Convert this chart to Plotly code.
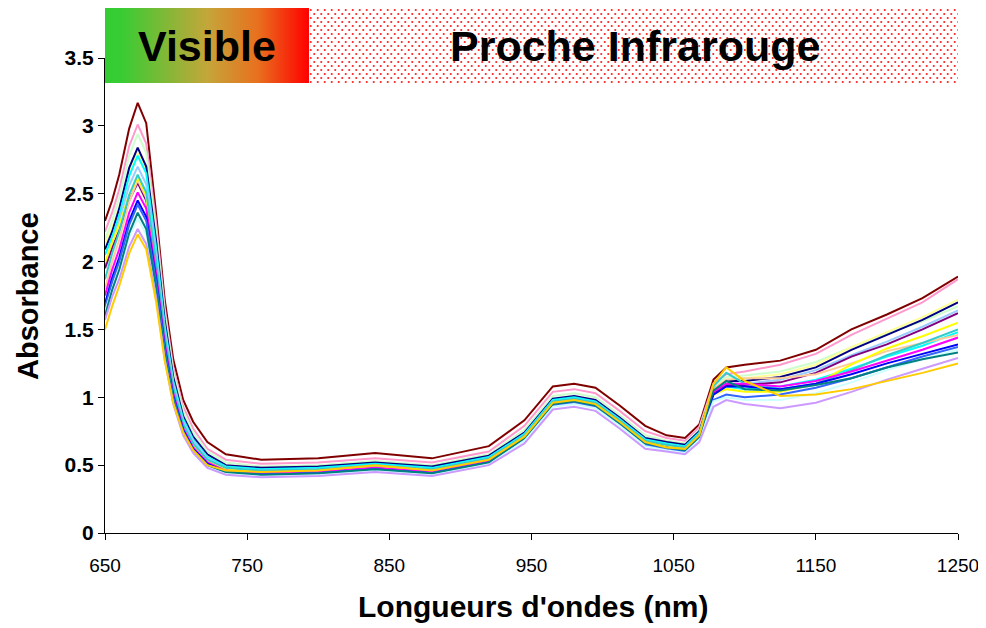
import base64
import plotly.graph_objects as go

# ---------------- data ----------------
wavelengths = [650, 655, 660, 667, 673, 679, 686, 692, 698, 705, 712, 722, 735, 760, 800, 840, 880, 920,
               945, 965, 980, 995, 1012, 1030, 1045,
               1058, 1068, 1078, 1087, 1100, 1125, 1150, 1175, 1200, 1225, 1250]

s_maroon = [2.30, 2.45, 2.64, 2.98, 3.17, 3.02, 2.35, 1.72, 1.28, 0.98, 0.82, 0.67, 0.58, 0.54, 0.55, 0.59, 0.55, 0.64,
            0.83, 1.08, 1.10, 1.07, 0.94, 0.79, 0.72,
            0.70, 0.80, 1.13, 1.22, 1.24, 1.27, 1.35, 1.50, 1.61, 1.73, 1.89]
s_pink = [2.22, 2.36, 2.53, 2.85, 3.01, 2.87, 2.28, 1.66, 1.22, 0.93, 0.77, 0.62, 0.54, 0.51, 0.52, 0.55, 0.52, 0.60,
          0.79, 1.04, 1.06, 1.03, 0.90, 0.75, 0.70,
          0.68, 0.78, 1.10, 1.17, 1.19, 1.24, 1.32, 1.46, 1.58, 1.70, 1.87]
s_lightgreen = [2.16, 2.30, 2.47, 2.78, 2.94, 2.80, 2.22, 1.62, 1.19, 0.90, 0.74, 0.60, 0.52, 0.49, 0.50, 0.53, 0.50, 0.58,
                0.76, 1.01, 1.03, 1.00, 0.87, 0.72, 0.68,
                0.66, 0.76, 1.08, 1.15, 1.16, 1.19, 1.26, 1.37, 1.47, 1.56, 1.67]
s_navy = [2.09, 2.22, 2.39, 2.69, 2.84, 2.70, 2.15, 1.57, 1.15, 0.86, 0.71, 0.58, 0.50, 0.48, 0.49, 0.52, 0.49, 0.57,
          0.74, 0.99, 1.01, 0.98, 0.85, 0.70, 0.67,
          0.65, 0.75, 1.06, 1.12, 1.12, 1.15, 1.22, 1.35, 1.46, 1.57, 1.70]
s_lightyellow = [2.13, 2.25, 2.40, 2.67, 2.80, 2.67, 2.12, 1.55, 1.14, 0.85, 0.70, 0.57, 0.50, 0.47, 0.48, 0.51, 0.48, 0.56,
                 0.73, 0.98, 1.00, 0.97, 0.84, 0.69, 0.66,
                 0.64, 0.74, 1.07, 1.13, 1.14, 1.17, 1.24, 1.37, 1.48, 1.59, 1.72]
s_cyan = [2.05, 2.18, 2.34, 2.63, 2.78, 2.65, 2.10, 1.53, 1.12, 0.84, 0.69, 0.56, 0.49, 0.47, 0.48, 0.51, 0.48, 0.56,
          0.73, 0.98, 1.00, 0.97, 0.84, 0.69, 0.66,
          0.64, 0.74, 1.04, 1.08, 1.06, 1.08, 1.13, 1.21, 1.30, 1.38, 1.48]
s_paleblue = [1.97, 2.15, 2.30, 2.56, 2.70, 2.57, 2.05, 1.50, 1.10, 0.82, 0.68, 0.55, 0.48, 0.46, 0.47, 0.50, 0.47, 0.55,
              0.72, 0.97, 0.99, 0.96, 0.83, 0.68, 0.65,
              0.63, 0.73, 1.05, 1.10, 1.10, 1.13, 1.20, 1.31, 1.41, 1.52, 1.64]
s_aqua = [1.87, 2.06, 2.22, 2.49, 2.64, 2.51, 2.00, 1.46, 1.07, 0.80, 0.66, 0.54, 0.48, 0.46, 0.47, 0.50, 0.47, 0.55,
          0.72, 0.97, 0.99, 0.96, 0.83, 0.68, 0.65,
          0.63, 0.73, 1.08, 1.18, 1.10, 1.06, 1.10, 1.20, 1.31, 1.40, 1.50]
s_tan = [1.80, 2.00, 2.16, 2.44, 2.60, 2.47, 1.97, 1.44, 1.06, 0.79, 0.65, 0.53, 0.47, 0.45, 0.46, 0.49, 0.46, 0.54,
         0.71, 0.96, 0.98, 0.95, 0.82, 0.67, 0.64,
         0.62, 0.72, 1.06, 1.13, 1.14, 1.14, 1.17, 1.25, 1.34, 1.40, 1.46]
s_purple = [1.95, 2.10, 2.23, 2.45, 2.58, 2.45, 1.96, 1.44, 1.06, 0.79, 0.65, 0.53, 0.47, 0.45, 0.46, 0.49, 0.46, 0.54,
            0.71, 0.96, 0.98, 0.95, 0.82, 0.67, 0.64,
            0.62, 0.72, 1.03, 1.09, 1.09, 1.11, 1.18, 1.30, 1.39, 1.50, 1.62]
s_yellow = [1.99, 2.14, 2.27, 2.49, 2.62, 2.49, 1.98, 1.45, 1.06, 0.79, 0.65, 0.53, 0.47, 0.45, 0.46, 0.49, 0.46, 0.54,
            0.71, 0.96, 0.98, 0.95, 0.82, 0.67, 0.64,
            0.62, 0.72, 1.02, 1.06, 1.04, 1.04, 1.10, 1.24, 1.36, 1.45, 1.55]
s_magenta = [1.75, 1.94, 2.09, 2.36, 2.51, 2.39, 1.91, 1.40, 1.03, 0.77, 0.63, 0.52, 0.46, 0.44, 0.45, 0.48, 0.45, 0.53,
             0.70, 0.95, 0.97, 0.94, 0.81, 0.66, 0.63,
             0.61, 0.71, 1.04, 1.10, 1.10, 1.08, 1.12, 1.19, 1.27, 1.35, 1.44]
s_blue = [1.69, 1.88, 2.03, 2.30, 2.45, 2.33, 1.87, 1.37, 1.01, 0.76, 0.62, 0.51, 0.45, 0.43, 0.44, 0.47, 0.44, 0.52,
          0.69, 0.94, 0.96, 0.93, 0.80, 0.65, 0.62,
          0.60, 0.70, 1.02, 1.08, 1.08, 1.06, 1.10, 1.17, 1.25, 1.32, 1.39]
s_royal = [1.66, 1.85, 2.00, 2.27, 2.42, 2.30, 1.85, 1.36, 1.00, 0.75, 0.61, 0.50, 0.45, 0.43, 0.44, 0.47, 0.44, 0.52,
           0.69, 0.94, 0.96, 0.93, 0.80, 0.65, 0.62,
           0.60, 0.70, 0.98, 1.02, 1.00, 1.02, 1.07, 1.14, 1.22, 1.30, 1.37]
s_teal = [1.60, 1.79, 1.94, 2.21, 2.36, 2.24, 1.81, 1.33, 0.98, 0.74, 0.61, 0.50, 0.45, 0.43, 0.44, 0.47, 0.44, 0.52,
          0.70, 0.95, 0.97, 0.94, 0.81, 0.66, 0.63,
          0.61, 0.71, 1.05, 1.12, 1.06, 1.05, 1.09, 1.14, 1.22, 1.28, 1.33]
s_turquoise = [1.63, 1.80, 1.94, 2.18, 2.32, 2.20, 1.78, 1.31, 0.97, 0.73, 0.60, 0.49, 0.44, 0.42, 0.43, 0.46, 0.43, 0.51,
               0.68, 0.93, 0.95, 0.92, 0.79, 0.64, 0.61,
               0.59, 0.69, 0.97, 1.00, 0.98, 0.98, 1.03, 1.11, 1.20, 1.28, 1.35]
s_lavender = [1.57, 1.74, 1.87, 2.11, 2.24, 2.13, 1.73, 1.28, 0.95, 0.72, 0.59, 0.48, 0.43, 0.41, 0.42, 0.45, 0.42, 0.50,
              0.66, 0.91, 0.93, 0.90, 0.77, 0.62, 0.60,
              0.58, 0.67, 0.93, 0.98, 0.95, 0.92, 0.96, 1.04, 1.13, 1.21, 1.29]
s_gold = [1.50, 1.67, 1.82, 2.06, 2.20, 2.09, 1.70, 1.27, 0.96, 0.74, 0.61, 0.50, 0.46, 0.45, 0.46, 0.50, 0.46, 0.54,
          0.71, 0.96, 0.98, 0.95, 0.82, 0.67, 0.63,
          0.62, 0.72, 1.10, 1.22, 1.12, 1.01, 1.02, 1.06, 1.12, 1.18, 1.25]

series = [
    ("Échantillon 1", s_maroon, "#800000"),
    ("Échantillon 2", s_pink, "#FF99CC"),
    ("Échantillon 3", s_lightgreen, "#CCFFCC"),
    ("Échantillon 4", s_lightyellow, "#FFFF99"),
    ("Échantillon 5", s_navy, "#000080"),
    ("Échantillon 6", s_cyan, "#00FFFF"),
    ("Échantillon 7", s_paleblue, "#99CCFF"),
    ("Échantillon 8", s_purple, "#800080"),
    ("Échantillon 9", s_tan, "#FFCC99"),
    ("Échantillon 10", s_yellow, "#FFFF00"),
    ("Échantillon 11", s_aqua, "#33CCCC"),
    ("Échantillon 12", s_magenta, "#FF00FF"),
    ("Échantillon 13", s_blue, "#0000FF"),
    ("Échantillon 14", s_royal, "#3366FF"),
    ("Échantillon 15", s_turquoise, "#CCFFFF"),
    ("Échantillon 16", s_teal, "#008080"),
    ("Échantillon 17", s_lavender, "#CC99FF"),
    ("Échantillon 18", s_gold, "#FFCC00"),
]
for _n, _v, _c in series:
    assert len(_v) == len(wavelengths), _n

x_ticks = [650, 750, 850, 950, 1050, 1150, 1250]
y_ticks = [0, 0.5, 1, 1.5, 2, 2.5, 3, 3.5]
y_ticktext = ["0", "0.5", "1", "1.5", "2", "2.5", "3", "3.5"]

label_visible = "Visible"
label_nir = "Proche Infrarouge"
x_title = "Longueurs d'ondes (nm)"
y_title = "Absorbance"

FONT = "Liberation Sans, Arial, sans-serif"

# page offset (default body margin of the html page)
OFF = 8
PAGE_W, PAGE_H = 986, 628
W, H = PAGE_W - OFF, PAGE_H - OFF

# plot area in page pixels
P_LEFT, P_RIGHT, P_TOP, P_BOTTOM = 105, 958, 58, 533
L = P_LEFT - OFF
T = P_TOP - OFF
R = W - (P_RIGHT - OFF)
B = H - (P_BOTTOM - OFF)
plot_w = P_RIGHT - P_LEFT
plot_h = P_BOTTOM - P_TOP


def px_x(px):
    return (px - P_LEFT) / plot_w


def px_y(py):
    return (P_BOTTOM - py) / plot_h


# ---------------- figure ----------------
fig = go.Figure()
for name, vals, col in series:
    fig.add_trace(go.Scatter(x=wavelengths, y=vals, mode="lines", name=name,
                             line=dict(color=col, width=2), hoverinfo="x+y+name"))

fig.update_layout(
    width=W, height=H,
    margin=dict(l=L, r=R, t=T, b=B, autoexpand=False),
    paper_bgcolor="white", plot_bgcolor="white",
    showlegend=False,
    font=dict(family=FONT, color="black"),
)
fig.update_xaxes(range=[650, 1250], tickvals=x_ticks, showgrid=False, zeroline=False, automargin=False,
                 showline=True, linecolor="black", linewidth=1, ticks="outside", ticklen=6,
                 ticklabelstandoff=9,
                 tickcolor="black", tickfont=dict(family=FONT, size=19, color="black"))
fig.update_yaxes(range=[0, 3.5], tickvals=y_ticks, ticktext=y_ticktext, showgrid=False, zeroline=False,
                 automargin=False,
                 showline=True, linecolor="black", linewidth=1, ticks="outside", ticklen=6,
                 tickcolor="black", tickfont=dict(family=FONT, size=21, color="black", weight="bold"))

# ---------------- banner ----------------
ban_top, ban_bot = 8, 83
vis_x0, vis_x1 = 105, 309
nir_x0, nir_x1 = 309, 958

vw, vh = vis_x1 - vis_x0, ban_bot - ban_top
svg_grad = f'''<svg xmlns="http://www.w3.org/2000/svg" width="{vw}" height="{vh}" viewBox="0 0 {vw} {vh}" preserveAspectRatio="none">
<defs><linearGradient id="g" x1="0" y1="0" x2="1" y2="0">
<stop offset="0" stop-color="#33CC33"/><stop offset="0.08" stop-color="#38CC33"/>
<stop offset="0.5" stop-color="#C4A63A"/><stop offset="0.75" stop-color="#E8701E"/>
<stop offset="1" stop-color="#FF0000"/></linearGradient></defs>
<rect x="0" y="0" width="{vw}" height="{vh}" fill="url(#g)"/></svg>'''

nw = nir_x1 - nir_x0
svg_pat = f'''<svg xmlns="http://www.w3.org/2000/svg" width="{nw}" height="{vh}" viewBox="0 0 {nw} {vh}" preserveAspectRatio="none">
<defs><pattern id="p" x="0" y="0" width="7" height="8" patternUnits="userSpaceOnUse">
<rect x="0" y="0" width="7" height="8" fill="white"/>
<circle cx="1.75" cy="2" r="1.05" fill="#FF2020"/><circle cx="5.25" cy="6" r="1.05" fill="#FF2020"/>
</pattern></defs>
<rect x="0" y="0" width="{nw}" height="{vh}" fill="url(#p)"/></svg>'''


def uri(svg):
    return "data:image/svg+xml;base64," + base64.b64encode(svg.encode()).decode()


fig.add_layout_image(dict(source=uri(svg_grad), xref="paper", yref="paper",
                          x=px_x(vis_x0), y=px_y(ban_top),
                          sizex=vw / plot_w, sizey=vh / plot_h, sizing="stretch",
                          xanchor="left", yanchor="top", layer="above"))
fig.add_layout_image(dict(source=uri(svg_pat), xref="paper", yref="paper",
                          x=px_x(nir_x0), y=px_y(ban_top),
                          sizex=nw / plot_w, sizey=vh / plot_h, sizing="stretch",
                          xanchor="left", yanchor="top", layer="above"))

fig.add_annotation(text=label_visible, xref="paper", yref="paper",
                   x=px_x(207), y=px_y(46), showarrow=False, xanchor="center", yanchor="middle",
                   font=dict(family=FONT, size=43, color="black", weight="bold"))
fig.add_annotation(text=label_nir, xref="paper", yref="paper",
                   x=px_x(635), y=px_y(46), showarrow=False, xanchor="center", yanchor="middle",
                   font=dict(family=FONT, size=43, color="black", weight="bold"))

fig.add_annotation(text=x_title, xref="paper", yref="paper",
                   x=px_x(533), y=px_y(606), showarrow=False, xanchor="center", yanchor="middle",
                   font=dict(family=FONT, size=30, color="black", weight="bold"))
fig.add_annotation(text=y_title, xref="paper", yref="paper", textangle=-90,
                   x=px_x(28), y=px_y(296), showarrow=False, xanchor="center", yanchor="middle",
                   font=dict(family=FONT, size=29, color="black", weight="bold"))

fig.write_html("out.html")
